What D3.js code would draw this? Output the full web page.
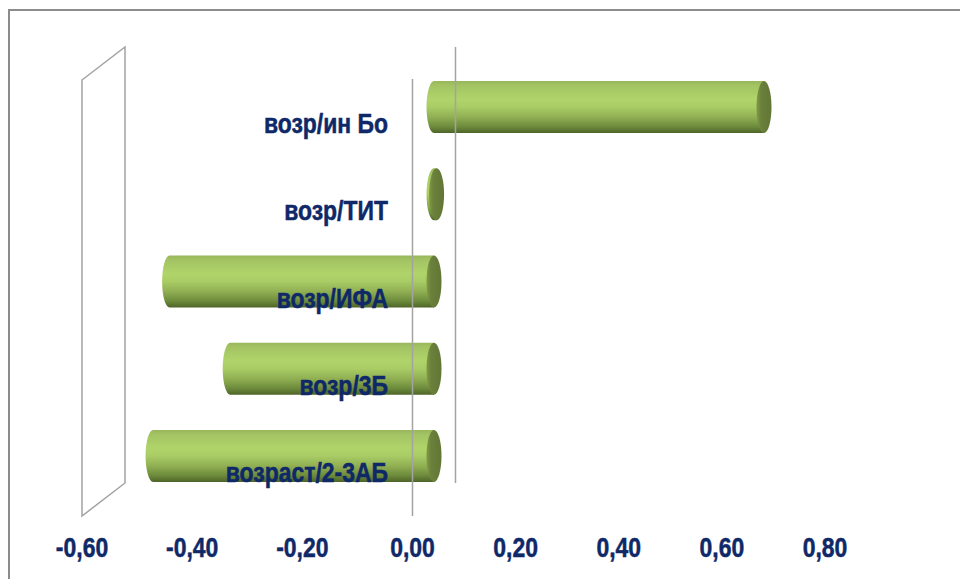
<!DOCTYPE html>
<html lang="ru">
<head>
    <meta charset="UTF-8">
    <title>Chart</title>
    <script src="https://d3js.org/d3.v7.min.js"></script>
    <style>
        body { margin: 0; background: #fff; }
        text {
            font-family: "Liberation Sans", Arial, sans-serif;
            font-weight: bold;
            fill: #0e2868;
            stroke: #0e2868;
            stroke-width: 0.5;
        }
    </style>
</head>
<body>
    <svg></svg>

    <script>
        const categories = ["возр/ин Бо", "возр/ТИТ", "возр/ИФА", "возр/3Б", "возраст/2-3АБ"];
        const values = [0.64, 0.005, -0.48, -0.37, -0.51];
        const ticks = [-0.6, -0.4, -0.2, 0, 0.2, 0.4, 0.6, 0.8];

        const width = 960, height = 579;
        const svg = d3.select("svg")
            .attr("width", width)
            .attr("height", height)
            .attr("viewBox", [0, 0, width, height]);

        // front plane of the 3d box; depth offset goes up-right
        const depth = {dx: 43, dy: -33};
        const mid = {dx: depth.dx / 2, dy: depth.dy / 2};

        // perspective makes the two sides slightly different
        const x = d3.scaleLinear().domain([-0.6, 0, 0.8]).range([82, 412.5, 825]);
        const y = d3.scaleBand().domain(categories).range([80, 516]).paddingInner(0).paddingOuter(0);

        const barH = 52;
        const rx = 7.5;
        const squeeze = 0.85; // narrow bold font look

        const defs = svg.append("defs");
        const grad = defs.append("linearGradient")
            .attr("id", "body").attr("x1", 0).attr("y1", 0).attr("x2", 0).attr("y2", 1);
        grad.selectAll("stop")
            .data([
                [0, "#98b65a"], [0.08, "#a3c363"], [0.35, "#b0d46a"], [0.5, "#a9cc65"],
                [0.7, "#8fae52"], [0.88, "#6c8a3b"], [1, "#4e6428"]
            ])
            .join("stop")
            .attr("offset", d => d[0])
            .attr("stop-color", d => d[1]);

        const capGrad = defs.append("linearGradient")
            .attr("id", "cap").attr("x1", 0).attr("y1", 0).attr("x2", 1).attr("y2", 0);
        capGrad.selectAll("stop")
            .data([[0, "#7f9a45"], [0.3, "#6b803b"], [1, "#627636"]])
            .join("stop")
            .attr("offset", d => d[0])
            .attr("stop-color", d => d[1]);

        // outer frame
        svg.append("rect")
            .attr("x", 9).attr("y", 10)
            .attr("width", 1000).attr("height", 1000)
            .attr("fill", "none")
            .attr("stroke", "#8c8c8c")
            .attr("stroke-width", 2);

        const gridColor = "#a3a3a3";

        // left side wall
        const x0 = x(-0.6), yt = y.range()[0], yb = y.range()[1];
        svg.append("path")
            .attr("d", `M${x0},${yt} L${x0 + depth.dx},${yt + depth.dy} L${x0 + depth.dx},${yb + depth.dy} L${x0},${yb} Z`)
            .attr("fill", "none")
            .attr("stroke", gridColor)
            .attr("stroke-width", 1.5);

        // cylinders
        const bars = svg.append("g");
        categories.forEach((c, i) => {
            const v = values[i];
            const cy = y(c) + y.bandwidth() / 2 + mid.dy;
            const xa = x(0) + mid.dx, xb = x(v) + mid.dx;
            const lo = Math.min(xa, xb), hi = Math.max(xa, xb);
            const top = cy - barH / 2, bot = cy + barH / 2;
            const g = bars.append("g");
            g.append("path")
                .attr("d", `M${hi},${top} L${lo},${top} A${rx},${barH / 2} 0 0 0 ${lo},${bot} L${hi},${bot} Z`)
                .attr("fill", "url(#body)");
            g.append("ellipse")
                .attr("cx", hi).attr("cy", cy)
                .attr("rx", rx).attr("ry", barH / 2)
                .attr("fill", "url(#cap)");
        });

        // zero lines (front and back) drawn over the bars
        svg.append("line")
            .attr("x1", x(0)).attr("x2", x(0))
            .attr("y1", yt - 1).attr("y2", yb)
            .attr("stroke", gridColor).attr("stroke-width", 1.5);
        svg.append("line")
            .attr("x1", x(0) + depth.dx).attr("x2", x(0) + depth.dx)
            .attr("y1", yt + depth.dy).attr("y2", yb + depth.dy)
            .attr("stroke", gridColor).attr("stroke-width", 1.5);

        // category labels
        svg.append("g")
            .selectAll("text")
            .data(categories)
            .join("text")
            .attr("transform", d => `translate(388,${y(d) + y.bandwidth() / 2 + 9.5}) scale(${squeeze},1.04)`)
            .attr("text-anchor", "end")
            .attr("font-size", 27)
            .text(d => d);

        // x tick labels
        const fmt = v => d3.format(".2f")(v).replace(".", ",").replace("−", "-");
        svg.append("g")
            .selectAll("text")
            .data(ticks)
            .join("text")
            .attr("transform", d => `translate(${x(d)},557) scale(${squeeze},1.04)`)
            .attr("text-anchor", "middle")
            .attr("font-size", 27)
            .text(d => fmt(d));
    </script>
</body>
</html>
